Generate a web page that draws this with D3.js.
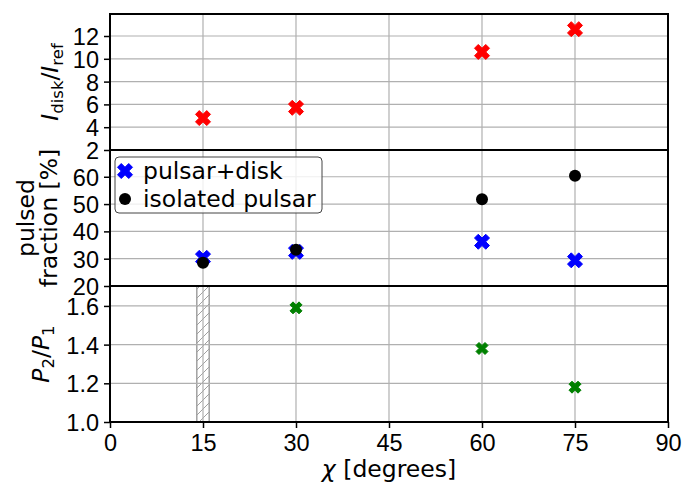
<!DOCTYPE html>
<html>
<head>
<meta charset="utf-8">
<script src="https://d3js.org/d3.v7.min.js"></script>
<style>
  body { margin: 0; background: #fff; }
  svg { font-family: "DejaVu Sans", sans-serif; }
</style>
</head>
<body>
<svg id="chart" width="684" height="488"></svg>
<script>
// values
const chi = [15, 30, 60, 75];
const diskRatio = [4.8, 5.7, 10.6, 12.6];
const pfDisk = [30.3, 32.5, 36.2, 29.4];
const pfIsolated = [28.5, 33.3, 51.8, 60.4];
const chiPeriod = [30, 60, 75];
const periodRatio = [1.59, 1.38, 1.18];
const excludedBand = [14, 16];

const xTicks = [0, 15, 30, 45, 60, 75, 90];
const topTicks = [2, 4, 6, 8, 10, 12];
const midTicks = [20, 30, 40, 50, 60];
const botTicks = [1.0, 1.2, 1.4, 1.6];
const legendLabels = ["pulsar+disk", "isolated pulsar"];

let xr1 = 110, xr2 = 668;
let fs = 23.5;
let svg = d3.select("#chart");

let xScale = d3.scaleLinear().domain([0, 90]).range([xr1, xr2]);

let panels = [
    {top: 14, bottom: 150, domain: [2, 13.93], ticks: topTicks, fmt: d3.format("d")},
    {top: 150, bottom: 286, domain: [20, 69.8], ticks: midTicks, fmt: d3.format("d")},
    {top: 286, bottom: 422, domain: [1.0, 1.703], ticks: botTicks, fmt: d3.format(".1f")}
];
panels.forEach(p => {
    p.y = d3.scaleLinear().domain(p.domain).range([p.bottom, p.top]);
});

// hatch pattern for the excluded band
let defs = svg.append("defs");
let pat = defs.append("pattern")
    .attr("id", "hatch")
    .attr("patternUnits", "userSpaceOnUse")
    .attr("width", 9).attr("height", 9);
pat.append("path")
    .attr("d", "M-2,11 L11,-2 M-2,2 L2,-2 M7,11 L11,7")
    .attr("stroke", "#a0a0a0").attr("stroke-width", 1);

let bp = panels[2];
svg.append("rect")
    .attr("x", xScale(excludedBand[0]))
    .attr("y", bp.top)
    .attr("width", xScale(excludedBand[1]) - xScale(excludedBand[0]))
    .attr("height", bp.bottom - bp.top)
    .attr("fill", "url(#hatch)")
    .attr("stroke", "#a0a0a0")
    .attr("stroke-width", 1.5);

// grids
panels.forEach(p => {
    let g = svg.append("g");
    g.selectAll("line.gx").data(xTicks.slice(1, -1)).enter().append("line")
        .attr("x1", d => xScale(d)).attr("x2", d => xScale(d))
        .attr("y1", p.top).attr("y2", p.bottom)
        .attr("stroke", "#b0b0b0").attr("stroke-width", 1.2);
    g.selectAll("line.gy").data(p.ticks.filter(t => t > p.domain[0])).enter().append("line")
        .attr("x1", xr1).attr("x2", xr2)
        .attr("y1", d => p.y(d)).attr("y2", d => p.y(d))
        .attr("stroke", "#b0b0b0").attr("stroke-width", 1.2);
});

// y axes
panels.forEach(p => {
    let yAxis = d3.axisLeft(p.y).tickValues(p.ticks).tickFormat(p.fmt)
        .tickSize(6).tickPadding(5);
    let ax = svg.append("g")
        .attr("transform", "translate(" + xr1 + ",0)")
        .call(yAxis);
    ax.select(".domain").remove();
    ax.selectAll("line").attr("stroke-width", 1.5);
    ax.selectAll("text").style("font-size", fs + "px").attr("dy", "0.36em");
});

// x axis (bottom only)
let xAxis = d3.axisBottom(xScale).tickValues(xTicks).tickSize(6).tickPadding(5);
let xa = svg.append("g")
    .attr("transform", "translate(0," + panels[2].bottom + ")")
    .call(xAxis);
xa.select(".domain").remove();
xa.selectAll("line").attr("stroke-width", 1.5);
xa.selectAll("text").style("font-size", fs + "px").attr("dy", "0.76em");

// frames
panels.forEach(p => {
    svg.append("rect")
        .attr("x", xr1).attr("y", p.top)
        .attr("width", xr2 - xr1).attr("height", p.bottom - p.top)
        .attr("fill", "none").attr("stroke", "#000").attr("stroke-width", 2);
});

// filled X marker, matplotlib style
function xPath(h) {
    let s = h / 2;
    let v = [[-1,-2],[0,-1],[1,-2],[2,-1],[1,0],[2,1],[1,2],[0,1],[-1,2],[-2,1],[-1,0],[-2,-1]];
    return "M" + v.map(q => (q[0] * s) + "," + (q[1] * s)).join("L") + "Z";
}

function drawX(data, xs, ys, color, half) {
    svg.append("g").selectAll("path").data(data).enter().append("path")
        .attr("transform", (d, i) => "translate(" + xScale(xs[i]) + "," + ys(d) + ")")
        .attr("d", xPath(half))
        .attr("fill", color)
        .attr("stroke", color).attr("stroke-width", 1);
}

drawX(diskRatio, chi, panels[0].y, "#ff0000", 7.5);
drawX(pfDisk, chi, panels[1].y, "#0000ff", 7.5);
svg.append("g").selectAll("circle").data(pfIsolated).enter().append("circle")
    .attr("cx", (d, i) => xScale(chi[i]))
    .attr("cy", d => panels[1].y(d))
    .attr("r", 6).attr("fill", "#000");
drawX(periodRatio, chiPeriod, panels[2].y, "#008000", 6);

// legend
let lg = svg.append("g").attr("transform", "translate(115,157)");
lg.append("rect")
    .attr("width", 207).attr("height", 56).attr("rx", 4)
    .attr("fill", "#fff").attr("fill-opacity", 0.8)
    .attr("stroke", "#444").attr("stroke-width", 1);
lg.append("path").attr("transform", "translate(10,14)")
    .attr("d", xPath(7.5)).attr("fill", "#0000ff").attr("stroke", "#0000ff");
lg.append("circle").attr("cx", 10).attr("cy", 42).attr("r", 6).attr("fill", "#000");
lg.selectAll("text").data(legendLabels).enter().append("text")
    .attr("x", 28).attr("y", (d, i) => 14 + i * 28)
    .attr("dy", "0.36em")
    .style("font-size", fs + "px")
    .text(d => d);

// axis titles
svg.append("text")
    .attr("x", (xr1 + xr2) / 2).attr("y", 477)
    .attr("text-anchor", "middle")
    .style("font-size", fs + "px")
    .html('<tspan font-style="italic">χ</tspan> [degrees]');

let t1 = svg.append("text")
    .attr("transform", "translate(58,82) rotate(-90)")
    .attr("text-anchor", "middle")
    .style("font-size", fs + "px");
t1.append("tspan").attr("font-style", "italic").text("I");
t1.append("tspan").attr("dy", 5).style("font-size", "16.5px").text("disk");
t1.append("tspan").attr("dy", -5).text("/");
t1.append("tspan").attr("font-style", "italic").text("I");
t1.append("tspan").attr("dy", 5).style("font-size", "16.5px").text("ref");

let t2 = svg.append("text")
    .attr("transform", "translate(0,218) rotate(-90)")
    .attr("text-anchor", "middle")
    .style("font-size", fs + "px");
t2.append("tspan").attr("x", 0).attr("y", 34).text("pulsed");
t2.append("tspan").attr("x", 0).attr("y", 57).text("fraction [%]");

let t3 = svg.append("text")
    .attr("transform", "translate(49,354) rotate(-90)")
    .attr("text-anchor", "middle")
    .style("font-size", fs + "px");
t3.append("tspan").attr("font-style", "italic").text("P");
t3.append("tspan").attr("dy", 5).style("font-size", "16.5px").text("2");
t3.append("tspan").attr("dy", -5).text("/");
t3.append("tspan").attr("font-style", "italic").text("P");
t3.append("tspan").attr("dy", 5).style("font-size", "16.5px").text("1");
</script>
</body>
</html>
